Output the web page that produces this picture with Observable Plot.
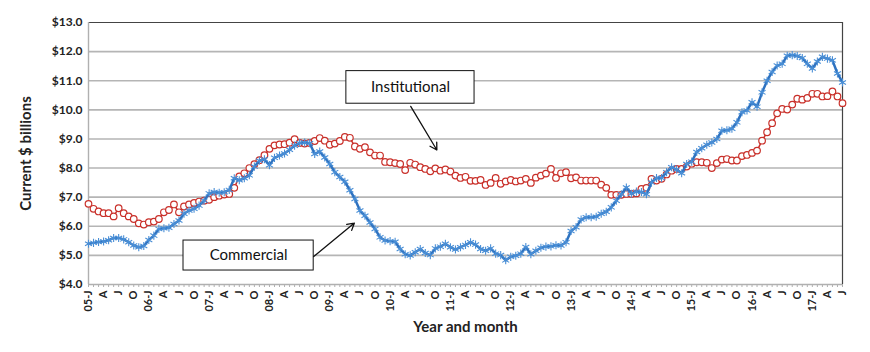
<!DOCTYPE html>
<html><head><meta charset="utf-8">
<script src="https://cdn.jsdelivr.net/npm/d3@7"></script>
<script src="https://cdn.jsdelivr.net/npm/@observablehq/plot@0.6"></script>
<style>body{margin:0;background:#fff}</style>
</head><body><div id="chart"></div>
<script>
// Monthly values, Jan 2005 .. Jul 2017 (current $ billions)
const commercial = [
5.40,5.43,5.46,5.48,5.52,5.60,5.60,5.55,5.45,5.34,5.28,5.32,
5.53,5.68,5.91,5.93,5.95,6.08,6.20,6.43,6.54,6.60,6.71,6.88,
7.13,7.18,7.15,7.17,7.25,7.65,7.58,7.65,7.75,8.05,8.25,8.30,
8.10,8.35,8.43,8.50,8.63,8.77,8.86,8.88,8.85,8.48,8.57,8.36,
8.14,7.86,7.69,7.53,7.24,6.94,6.54,6.36,6.13,5.91,5.62,5.51,
5.49,5.47,5.22,5.04,5.00,5.11,5.22,5.08,5.01,5.24,5.30,5.40,
5.28,5.20,5.28,5.36,5.45,5.37,5.22,5.16,5.24,5.06,5.01,4.83,
4.95,4.99,5.06,5.29,5.04,5.16,5.26,5.30,5.31,5.35,5.34,5.45,
5.84,5.97,6.23,6.31,6.31,6.33,6.43,6.50,6.65,6.88,7.10,7.33,
7.12,7.19,7.18,7.10,7.50,7.66,7.66,7.86,8.03,7.95,7.82,8.14,
8.22,8.55,8.68,8.80,8.88,9.00,9.28,9.30,9.35,9.57,9.92,9.98,
10.26,10.11,10.60,11.00,11.30,11.52,11.58,11.86,11.88,11.85,11.78,11.58,
11.42,11.66,11.82,11.76,11.70,11.25,10.94
];
const institutional = [
6.77,6.60,6.51,6.45,6.45,6.34,6.62,6.45,6.34,6.25,6.10,6.06,
6.14,6.16,6.25,6.48,6.56,6.75,6.48,6.68,6.75,6.80,6.85,6.88,
6.91,7.00,7.05,7.09,7.11,7.32,7.71,7.82,8.00,8.13,8.27,8.44,
8.66,8.78,8.81,8.82,8.87,8.99,8.86,8.84,8.86,8.93,9.03,8.94,
8.80,8.84,8.93,9.07,9.04,8.74,8.66,8.72,8.54,8.43,8.43,8.21,
8.20,8.17,8.14,7.93,8.18,8.12,8.03,7.97,7.89,7.99,7.91,7.95,
7.88,7.74,7.66,7.70,7.56,7.56,7.59,7.42,7.49,7.66,7.46,7.54,
7.59,7.54,7.57,7.63,7.49,7.67,7.74,7.81,7.97,7.66,7.82,7.86,
7.65,7.68,7.57,7.57,7.57,7.57,7.43,7.32,7.08,7.08,7.08,7.11,
7.11,7.13,7.28,7.32,7.63,7.57,7.63,7.78,7.91,7.97,7.97,8.05,
8.15,8.20,8.20,8.18,8.00,8.17,8.29,8.31,8.26,8.26,8.41,8.45,
8.52,8.60,8.94,9.23,9.54,9.88,10.03,10.01,10.18,10.38,10.35,10.41,
10.55,10.55,10.46,10.47,10.63,10.46,10.23
];
// x tick labels, one every 3 months starting Jan 2005
const tickLabels = [
"05-J","A","J","O","06-J","A","J","O","07-J","A","J","O",
"08-J","A","J","O","09-J","A","J","O","10-J","A","J","O",
"11-J","A","J","O","12-J","A","J","O","13-J","A","J","O",
"14-J","A","J","O","15-J","A","J","O","16-J","A","J","O",
"17-J","A","J"
];
const yTicks = [4,5,6,7,8,9,10,11,12,13];
const seriesNames = ["Commercial","Institutional"];

const months = d3.range(commercial.length);
const tickPos = tickLabels.map((_, k) => k * 3);
const data = months.map(i => ({i, commercial: commercial[i], institutional: institutional[i]}));

const blue = "#2e72c0", red = "#c9302a";
const font = "Lato, 'DejaVu Sans', sans-serif";

// callout boxes (data coordinates)
const callouts = [
  {name: seriesNames[1], x1: 51.3, x2: 76.8, y1: 10.21, y2: 11.33, ax1: 64.1, ay1: 10.12, ax2: 69.3, ay2: 8.62},
  {name: seriesNames[0], x1: 18.9, x2: 44.8, y1: 4.48, y2: 5.51, ax1: 44.8, ay1: 4.96, ax2: 52.9, ay2: 6.11}
];

const chart = Plot.plot({
  width: 870, height: 352,
  marginTop: 22, marginBottom: 68, marginLeft: 88, marginRight: 28,
  style: {fontFamily: font, fontWeight: "bold", background: "white", color: "#222"},
  x: {domain: [0, 150]},
  y: {domain: [4, 13]},
  marks: [
    Plot.gridY(yTicks.slice(1, -1), {stroke: "#b5b5b5", strokeOpacity: 1, strokeWidth: 1.6}),
    Plot.ruleY([13], {stroke: "#444", strokeWidth: 1.2}),
    Plot.ruleX([150], {stroke: "#444", strokeWidth: 1.2}),
    Plot.ruleX([0], {stroke: "#b0b0b0", strokeWidth: 1.4}),
    Plot.ruleY([4], {stroke: "#b0b0b0", strokeWidth: 1.6}),
    Plot.axisX(months, {tickSize: 3, text: null, stroke: "#b0b0b0", label: null}),
    Plot.axisX(tickPos, {tickSize: 0, tickRotate: -90, tickPadding: 6, fontSize: 11,
      tickFormat: d => tickLabels[d / 3], label: null}),
    Plot.axisY(yTicks, {tickSize: 0, tickPadding: 6, fontSize: 12,
      tickFormat: d => "$" + d.toFixed(1), label: null}),
    Plot.text(["Current $ billions"], {frameAnchor: "left", textAnchor: "middle", rotate: -90, dx: -62, fontSize: 15, fontWeight: "bold"}),
    Plot.text(["Year and month"], {frameAnchor: "bottom", textAnchor: "middle", dy: 47, fontSize: 15, fontWeight: "bold"}),
    Plot.line(data, {x: "i", y: "institutional", stroke: red, strokeWidth: 1.5}),
    Plot.dot(data, {x: "i", y: "institutional", r: 3.3, fill: "white", stroke: red, strokeWidth: 1.2}),
    Plot.line(data, {x: "i", y: "commercial", stroke: blue, strokeWidth: 2.5}),
    Plot.dot(data, {x: "i", y: "commercial", symbol: "asterisk", r: 3.8, stroke: "#4a8fd6", strokeWidth: 1.1}),
    Plot.rect(callouts, {x1: "x1", x2: "x2", y1: "y1", y2: "y2", fill: "white", stroke: "#111", strokeWidth: 1}),
    Plot.text(callouts, {x: d => (d.x1 + d.x2) / 2, y: d => (d.y1 + d.y2) / 2, text: "name",
      fontSize: 15, fontWeight: "normal", fill: "#111"}),
    Plot.arrow(callouts, {x1: "ax1", y1: "ay1", x2: "ax2", y2: "ay2", stroke: "#111", strokeWidth: 1.3, headLength: 9, bend: 0})
  ]
});
document.getElementById("chart").appendChild(chart);
</script>
</body></html>
